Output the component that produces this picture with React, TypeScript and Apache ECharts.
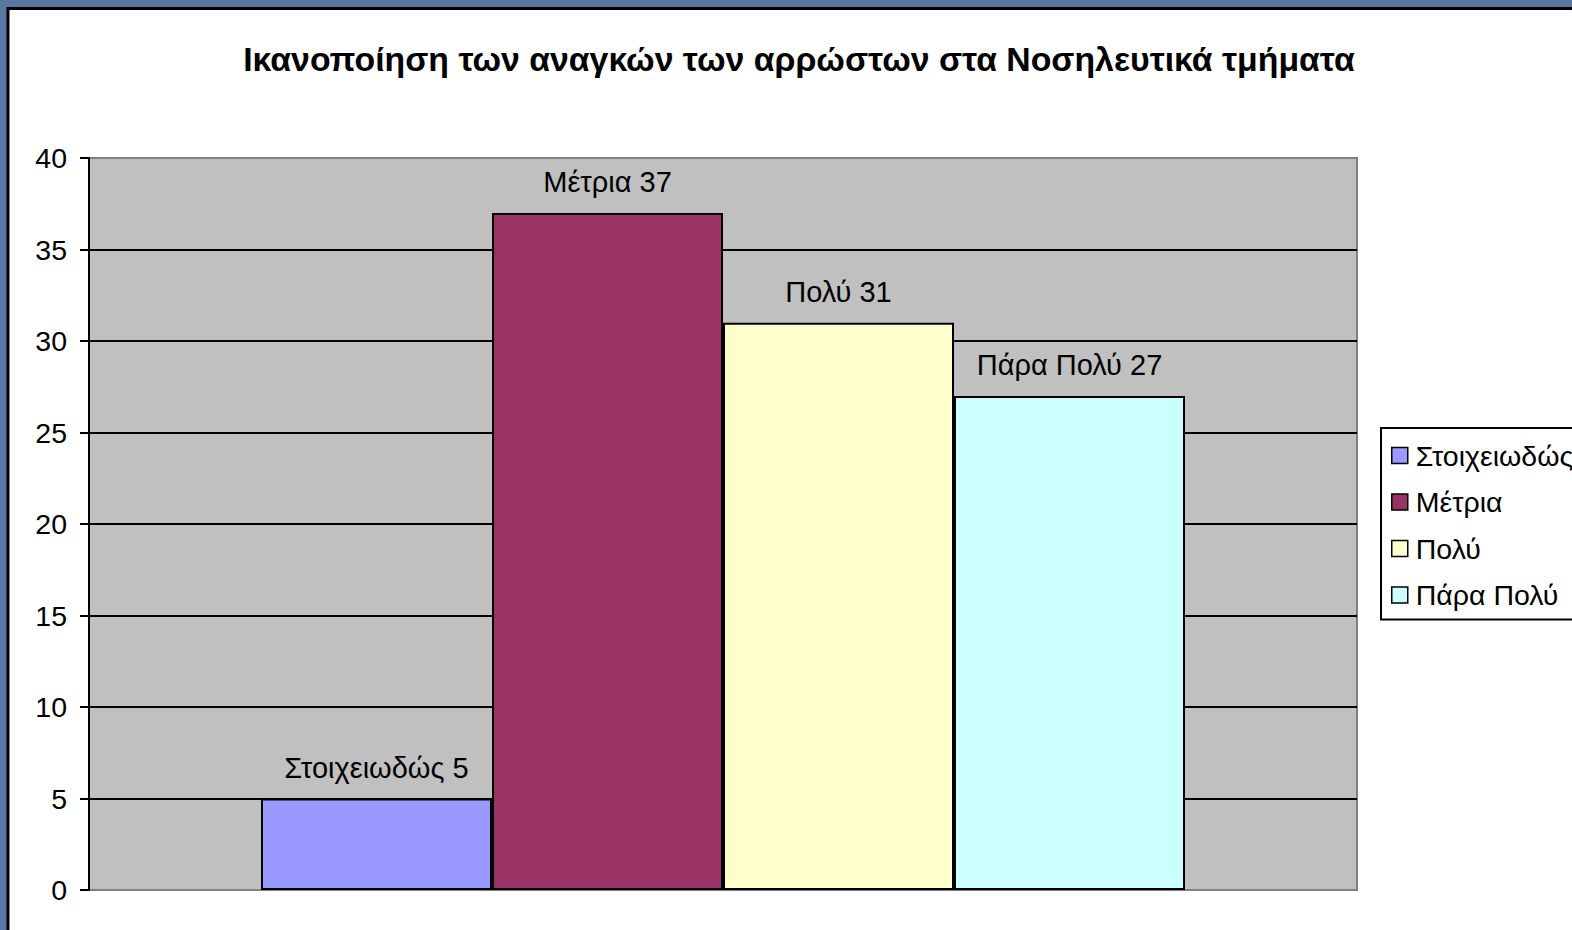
import React, { useEffect, useRef } from "react";
import * as echarts from "echarts";

const TITLE = "Ικανοποίηση των αναγκών των αρρώστων στα Νοσηλευτικά τμήματα";
const CATEGORIES = [""];
const SERIES_NAMES = ["Στοιχειωδώς", "Μέτρια", "Πολύ", "Πάρα Πολύ"];
const SERIES_VALUES = [5, 37, 31, 27];
const SERIES_COLORS = ["#9999ff", "#993366", "#ffffcc", "#ccffff"];
const Y_MIN = 0;
const Y_MAX = 40;
const Y_STEP = 5;

const FONT = "'Liberation Sans', Arial, Helvetica, sans-serif";

export default function App() {
  const ref = useRef<HTMLDivElement>(null);

  useEffect(() => {
    if (!ref.current) return;
    const chart = echarts.init(ref.current, undefined, { renderer: "svg" });
    chart.setOption({
      animation: false,
      backgroundColor: "#5878a2",
      textStyle: { fontFamily: FONT },
      graphic: [
        {
          type: "rect",
          z: -10,
          shape: { x: 8, y: 8.5, width: 1700, height: 1100 },
          style: { fill: "#ffffff", stroke: "#000000", lineWidth: 3 },
        },
        {
          type: "text",
          x: 799,
          y: 59,
          style: {
            text: TITLE,
            fontFamily: FONT,
            fontSize: 33.8,
            fontWeight: "bold",
            fill: "#000000",
            textAlign: "center",
            textVerticalAlign: "middle",
          },
        },
      ],
      legend: {
        orient: "vertical",
        left: 1381,
        top: 428,
        data: SERIES_NAMES,
        itemWidth: 16,
        itemHeight: 16,
        itemGap: 17.5,
        padding: [13, 10, 10, 10],
        backgroundColor: "#ffffff",
        borderColor: "#000000",
        borderWidth: 2,
        borderRadius: 0,
        icon: "rect",
        itemStyle: { borderColor: "#000000", borderWidth: 1.5 },
        textStyle: {
          fontSize: 28.5,
          color: "#000000",
          fontFamily: FONT,
          padding: [0, 0, 0, 3],
        },
      },
      grid: {
        left: 89,
        right: 215,
        top: 158,
        bottom: 40,
        show: true,
        backgroundColor: "#c0c0c0",
        borderColor: "#808080",
        borderWidth: 2,
      },
      xAxis: {
        type: "category",
        data: CATEGORIES,
        axisLine: { show: false },
        axisTick: { show: false },
        axisLabel: { show: false },
        splitLine: { show: false },
      },
      yAxis: {
        type: "value",
        min: Y_MIN,
        max: Y_MAX,
        interval: Y_STEP,
        axisLine: { show: true, lineStyle: { color: "#000000", width: 2 } },
        axisTick: {
          show: true,
          length: 9,
          lineStyle: { color: "#000000", width: 2 },
        },
        axisLabel: {
          color: "#000000",
          fontSize: 28.5,
          fontFamily: FONT,
          margin: 22,
        },
        splitLine: {
          show: true,
          showMinLine: false,
          showMaxLine: false,
          lineStyle: { color: "#000000", width: 2 },
        },
      },
      series: SERIES_NAMES.map((name, i) => ({
        name,
        type: "bar",
        data: [SERIES_VALUES[i]],
        barWidth: 231,
        barGap: "0%",
        itemStyle: {
          color: SERIES_COLORS[i],
          borderColor: "#000000",
          borderWidth: 2,
        },
        label: {
          show: true,
          position: "top",
          distance: 16,
          formatter: "{a} {c}",
          fontSize: 29,
          color: "#000000",
          fontFamily: FONT,
        },
      })),
    });
    return () => chart.dispose();
  }, []);

  return (
    <div
      ref={ref}
      style={{ position: "fixed", left: 0, top: 0, width: 1572, height: 930 }}
    />
  );
}
